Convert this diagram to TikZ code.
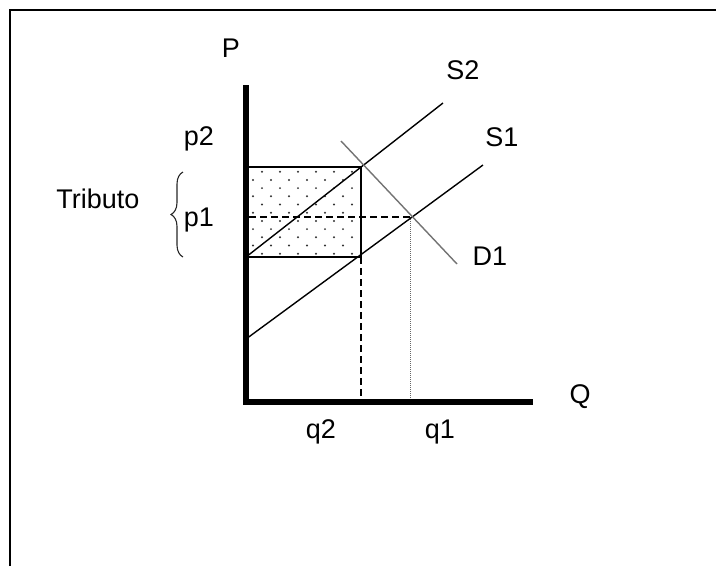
\documentclass[tikz,border=0pt]{standalone}
\usepackage{fontspec}
\setmainfont{Liberation Sans}
\usetikzlibrary{decorations.pathreplacing}

\begin{document}
\begin{tikzpicture}[
  x=1pt, y=-1pt,
  font=\fontsize{27}{31}\selectfont,
  lbl/.style={inner sep=0pt},
  axis/.style={line width=6pt, line join=miter},
  supply/.style={line width=1.4pt},
  demand/.style={line width=1.4pt, draw=black!55},
  guide/.style={line width=1.8pt, dash pattern=on 7pt off 4pt},
  fine/.style={line width=0.9pt, draw=black!60, dash pattern=on 1pt off 1pt}
]
\useasboundingbox (0,0) rectangle (716,566);

% frame
\draw[line width=2pt] (10,566) -- (10,10) -- (716,10);

% key points
\coordinate (ytop) at (246,85);
\coordinate (O) at (246,402);
\coordinate (xend) at (533,402);
\coordinate (A) at (246,167);
\coordinate (B) at (361,167);
\coordinate (C) at (361,257);
\coordinate (D) at (246,257);
\coordinate (E1) at (412,217);

% tax area
\foreach \k in {0,...,10}{
  \pgfmathsetmacro{\dy}{171.7+8.2*\k}
  \pgfmathsetmacro{\dx}{mod(\k,2)==0 ? 262 : 253}
  \foreach \j in {0,...,5}
    \fill[black!80] (\dx+18*\j,\dy) circle (1.1pt);
}
\draw[line width=2pt] (A) rectangle (C);

\draw[guide] (249,217) -- (E1);
\draw[guide] (C) -- (361,400);
\draw[fine] (410,217) -- (410,400);

% curves
\draw[supply] (D) -- (443,103);
\draw[supply] (246,339) -- (483,165);
\draw[demand] (341,141) -- (457,264);

\draw[axis] (ytop) -- (O) -- (xend);

\draw[decorate, decoration={brace, amplitude=12pt}, line width=1.1pt, black!85]
  (183,257) -- (183,172);

% labels
\node[lbl] (plab) at (231,48) {P};
\node[lbl] (qlab) at (580,397) {Q};
\node[lbl] (s2) at (463,70) {S2};
\node[lbl] (s1) at (502,137) {S1};
\node[lbl] (d1) at (490,256) {D1};
\node[lbl] (p2) at (199,139) {p2};
\node[lbl] (p1) at (199,220) {p1};
\node[lbl] (tributo) at (98,199) {Tributo};
\node[lbl] (q2) at (321,432) {q2};
\node[lbl] (q1) at (440,432) {q1};

\end{tikzpicture}
\end{document}
